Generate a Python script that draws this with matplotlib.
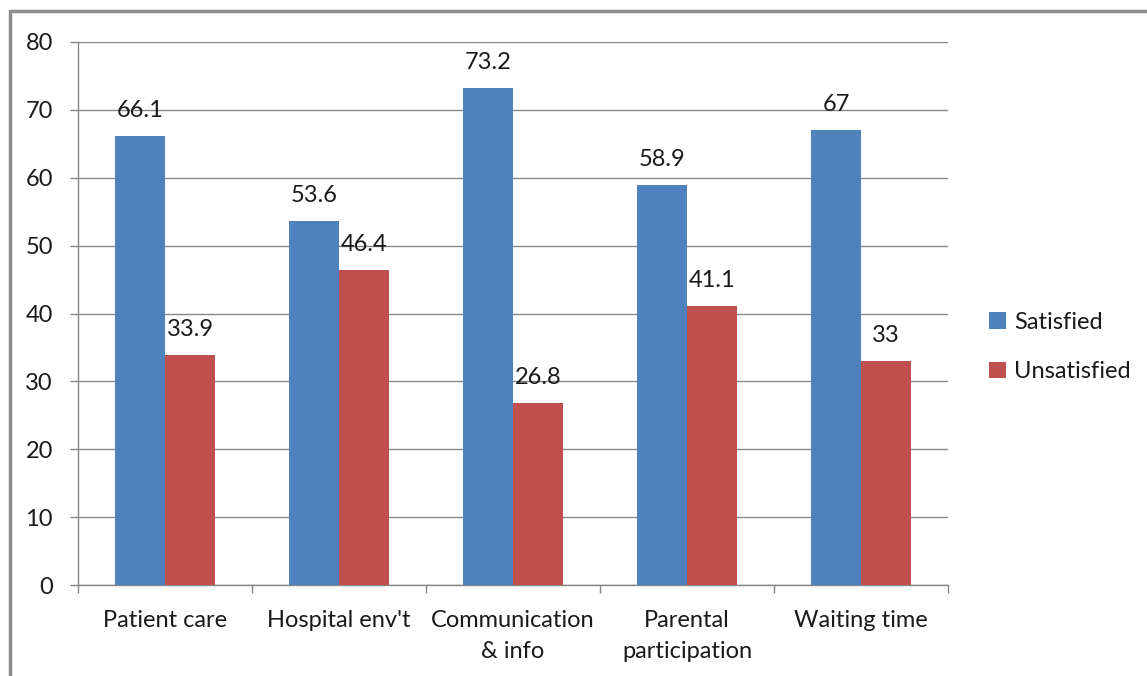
import matplotlib
matplotlib.use("Agg")
import matplotlib.pyplot as plt
import numpy as np
from matplotlib.patches import Rectangle

categories = ["Patient care", "Hospital env't", "Communication\n& info", "Parental\nparticipation", "Waiting time"]
satisfied = [66.1, 53.6, 73.2, 58.9, 67]
unsatisfied = [33.9, 46.4, 26.8, 41.1, 33]
satisfied_labels = ["66.1", "53.6", "73.2", "58.9", "67"]
unsatisfied_labels = ["33.9", "46.4", "26.8", "41.1", "33"]
yticks = [0, 10, 20, 30, 40, 50, 60, 70, 80]

blue = "#4F81BD"
red = "#C0504D"
gray = "#868686"
text_color = "#1a1a1a"
fs = 17

plt.rcParams["font.family"] = ["Lato", "DejaVu Sans"]

fig = plt.figure(figsize=(11.47, 6.76), dpi=100)
ax = fig.add_axes([78 / 1147, 1 - 585 / 676, (948 - 78) / 1147, (585 - 42) / 676])

# outer chart frame
fig.patches.append(Rectangle((10 / 1147, -0.1), 1.2, 1 - 11 / 676 + 0.1,
                             transform=fig.transFigure, fill=False,
                             edgecolor="#8c8c8c", linewidth=2.5))

x = np.arange(len(categories))
w = 50 / 174
b1 = ax.bar(x - w / 2, satisfied, width=w, color=blue, label="Satisfied", zorder=3)
b2 = ax.bar(x + w / 2, unsatisfied, width=w, color=red, label="Unsatisfied", zorder=3)

for bars, labs in ((b1, satisfied_labels), (b2, unsatisfied_labels)):
    for rect, lab in zip(bars, labs):
        ax.annotate(lab, (rect.get_x() + rect.get_width() / 2, rect.get_height()),
                    xytext=(0, 11), textcoords="offset points", ha="center", va="bottom",
                    fontsize=fs, color=text_color)

ax.set_xlim(-0.5, len(categories) - 0.5)
ax.set_ylim(0, 80)
ax.set_yticks(yticks)
ax.set_yticklabels([str(v) for v in yticks])
ax.yaxis.grid(True, color=gray, linewidth=1, zorder=0)
ax.set_axisbelow(True)

ax.set_xticks(x)
ax.set_xticklabels(categories, fontsize=fs, color=text_color, linespacing=1.6)
ax.set_xticks(np.arange(-0.5, len(categories)), minor=True)
ax.tick_params(axis="x", which="major", length=0, pad=18)
ax.tick_params(axis="x", which="minor", length=6, color=gray, width=1)
ax.tick_params(axis="y", length=6, color=gray, width=1, pad=12, labelsize=fs, labelcolor=text_color)

for s in ("top", "right"):
    ax.spines[s].set_visible(False)
for s in ("left", "bottom"):
    ax.spines[s].set_color(gray)
    ax.spines[s].set_linewidth(1)

leg = fig.legend(loc="center left", bbox_to_anchor=(968 / 1147, 1 - 347 / 676),
                 frameon=False, fontsize=fs, handlelength=0.7, handleheight=0.7,
                 handletextpad=0.35, labelspacing=1.2)
for t in leg.get_texts():
    t.set_color(text_color)

fig.savefig("out.png", dpi=100, facecolor="white")
